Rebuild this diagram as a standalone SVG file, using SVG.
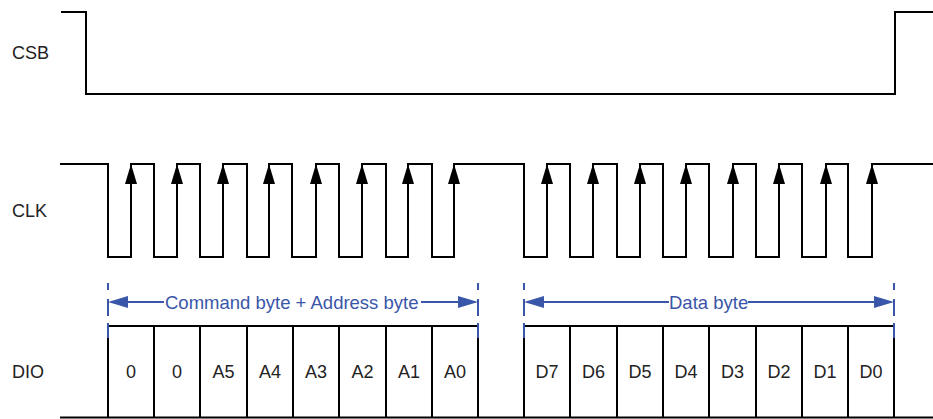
<svg xmlns="http://www.w3.org/2000/svg" xmlns:xlink="http://www.w3.org/1999/xlink" width="933" height="419" viewBox="0 0 933 419">
<style>
.sig{fill:none;stroke:#000;stroke-width:2;stroke-linejoin:miter}
.lbl{font-family:"Liberation Sans",Arial,sans-serif;font-size:18px;fill:#222}
.cell{font-family:"Liberation Sans",Arial,sans-serif;font-size:18px;fill:#222;text-anchor:middle}
.blue{fill:none;stroke:#3a56a8;stroke-width:2}
.bt{font-family:"Liberation Sans",Arial,sans-serif;font-size:18.5px;fill:#3a56a8}
</style>
<defs>
<polygon id="up" points="0,164 -6,184 6,184" fill="#000"/>
<polygon id="la" points="0,0 20,-6 20,6" fill="#3a56a8"/>
<polygon id="ra" points="0,0 -20,-6 -20,6" fill="#3a56a8"/>
</defs>
<rect width="933" height="419" fill="#fff"/>
<g id="labels">
<text class="lbl" x="12" y="59">CSB</text>
<text class="lbl" x="12" y="217">CLK</text>
<text class="lbl" x="12" y="378">DIO</text>
</g>
<g id="csb">
<path class="sig" d="M61,12 H86 V94 H895 V12 H933"/>
</g>
<g id="clk">
<path class="sig" d="M60,164 H108 V257 H131 V164 H154 V257 H177 V164 H200 V257 H223 V164 H247 V257 H269 V164 H292 V257 H316 V164 H339 V257 H362 V164 H386 V257 H408 V164 H432 V257 H454 V164 H524 V257 H547 V164 H570 V257 H593 V164 H617 V257 H640 V164 H663 V257 H686 V164 H709 V257 H733 V164 H756 V257 H779 V164 H802 V257 H826 V164 H848 V257 H872 V164 H933"/>
<use xlink:href="#up" x="131"/><use xlink:href="#up" x="177"/><use xlink:href="#up" x="223"/><use xlink:href="#up" x="269"/>
<use xlink:href="#up" x="316"/><use xlink:href="#up" x="362"/><use xlink:href="#up" x="408"/><use xlink:href="#up" x="454"/>
<use xlink:href="#up" x="547"/><use xlink:href="#up" x="593"/><use xlink:href="#up" x="640"/><use xlink:href="#up" x="686"/>
<use xlink:href="#up" x="733"/><use xlink:href="#up" x="779"/><use xlink:href="#up" x="826"/><use xlink:href="#up" x="872"/>
</g>
<g id="dio">
<path class="sig" d="M60,417.5 H933 M108,326 H478 M524,326 H894 M108,326 V418 M154,326 V418 M200,326 V418 M247,326 V418 M293,326 V418 M339,326 V418 M386,326 V418 M432,326 V418 M478,326 V418 M524,326 V418 M570,326 V418 M617,326 V418 M663,326 V418 M709,326 V418 M756,326 V418 M802,326 V418 M848,326 V418 M894,326 V418"/>
<text class="cell" x="131" y="378">0</text>
<text class="cell" x="177" y="378">0</text>
<text class="cell" x="223.5" y="378">A5</text>
<text class="cell" x="270" y="378">A4</text>
<text class="cell" x="316" y="378">A3</text>
<text class="cell" x="362.5" y="378">A2</text>
<text class="cell" x="409" y="378">A1</text>
<text class="cell" x="455" y="378">A0</text>
<text class="cell" x="547" y="378">D7</text>
<text class="cell" x="593.5" y="378">D6</text>
<text class="cell" x="640" y="378">D5</text>
<text class="cell" x="686" y="378">D4</text>
<text class="cell" x="732.5" y="378">D3</text>
<text class="cell" x="779" y="378">D2</text>
<text class="cell" x="825" y="378">D1</text>
<text class="cell" x="871" y="378">D0</text>
</g>
<g id="connectors">
<path class="blue" d="M108,283 V290 M108,299 V316 M108,323 V338 M478,283 V290 M478,299 V316 M478,323 V338 M524,283 V290 M524,299 V316 M524,323 V338 M894,283 V290 M894,299 V316 M894,323 V338"/>
<path class="blue" stroke-width="1.5" d="M126,302 H164 M421,302 H460 M542,302 H669 M748,302 H877"/>
<use xlink:href="#la" x="108" y="302"/>
<use xlink:href="#ra" x="478" y="302"/>
<use xlink:href="#la" x="524" y="302"/>
<use xlink:href="#ra" x="894" y="302"/>
<text class="bt" x="165" y="308.5">Command byte + Address byte</text>
<text class="bt" x="669" y="308.5">Data byte</text>
</g>
</svg>
